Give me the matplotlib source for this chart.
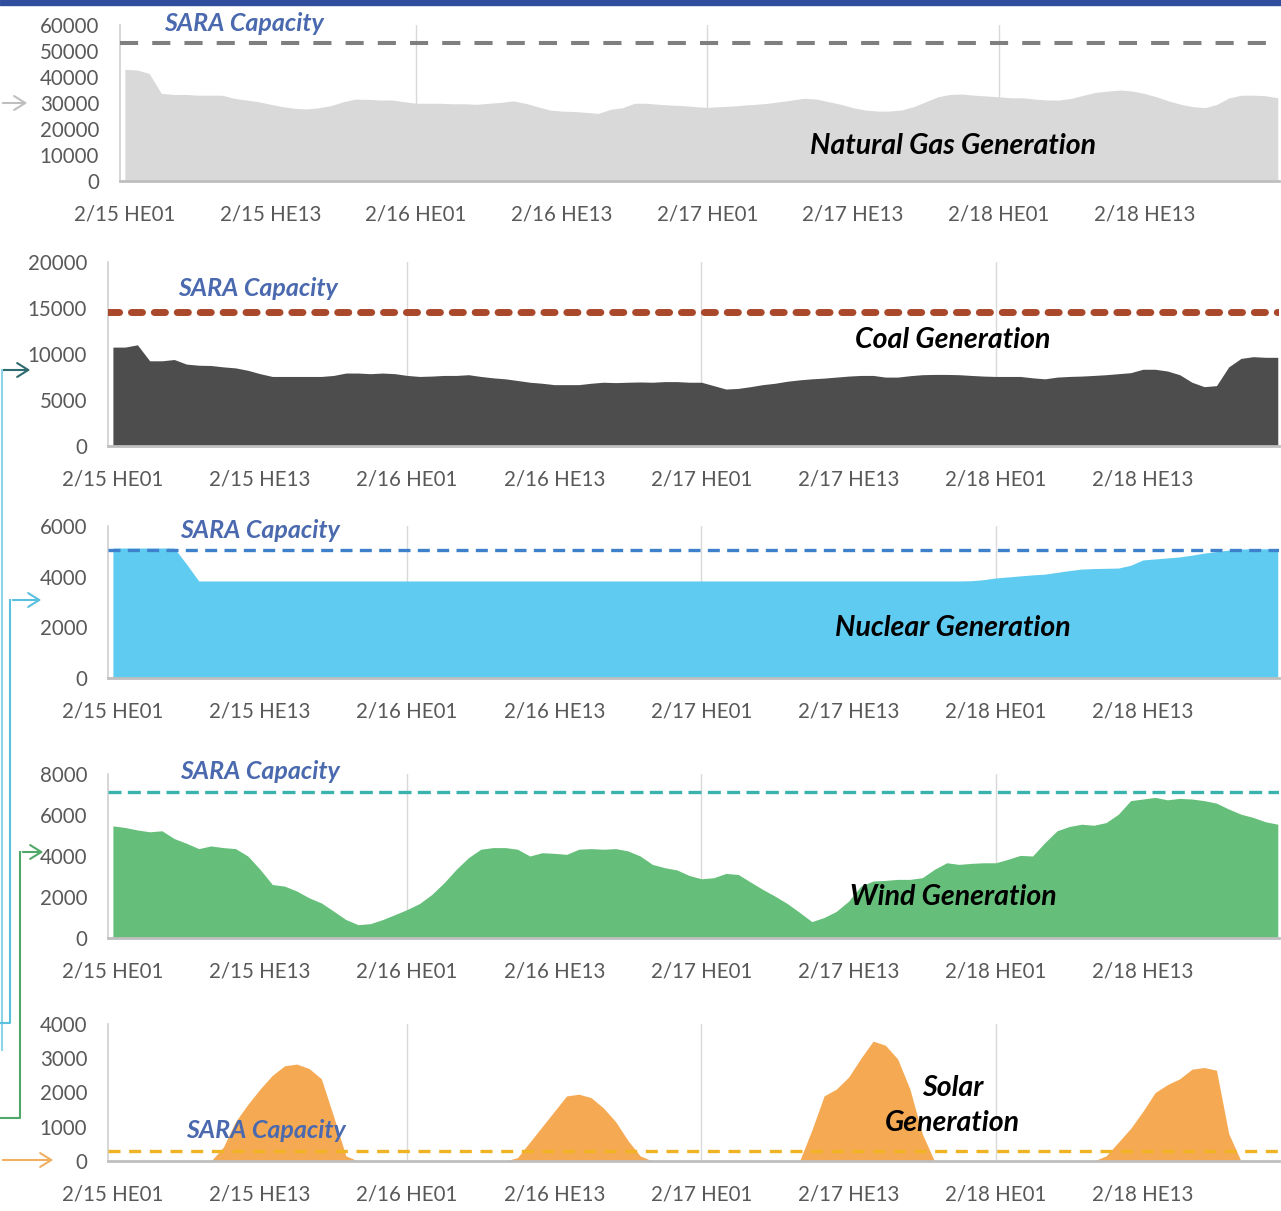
import numpy as np
import matplotlib
matplotlib.use("Agg")
import matplotlib.pyplot as plt
from matplotlib.patches import Rectangle, FancyArrowPatch
from matplotlib.lines import Line2D

plt.rcParams['font.family'] = ['Lato', 'DejaVu Sans']

# hourly categories 2/15 HE01 .. 2/18 HE24
hours = list(range(96))
tick_pos = [0, 12, 24, 36, 48, 60, 72, 84]
tick_labels = ["2/15 HE01", "2/15 HE13", "2/16 HE01", "2/16 HE13",
               "2/17 HE01", "2/17 HE13", "2/18 HE01", "2/18 HE13"]

gas = [42950, 42700, 41400, 33700, 33300, 33300, 33000, 33000, 33000, 31800,
       31150, 30500, 29500, 28600, 27950, 27700, 28200, 29000, 30500, 31500,
       31400, 31150, 31150, 30500, 29900, 29900, 29900, 29700, 29700, 29500,
       29900, 30250, 30800, 29900, 28600, 27300, 26900, 26700, 26400, 26000,
       27550, 28200, 29900, 29900, 29500, 29200, 29000, 28600, 28300, 28600,
       28800, 29200, 29500, 29900, 30500, 31150, 31800, 31500, 30500, 29500,
       28200, 27300, 26900, 26900, 27300, 28600, 30500, 32400, 33300, 33450,
       33000, 32700, 32400, 32000, 32000, 31500, 31150, 31150, 31800, 33000,
       34100, 34600, 35000, 34600, 33700, 32400, 30800, 29500, 28600, 28200,
       29500, 32000, 33000, 33000, 32800, 32000]

coal = [10750, 10750, 11000, 9260, 9260, 9400, 8900, 8780, 8750, 8600,
        8490, 8230, 7860, 7560, 7560, 7560, 7560, 7560, 7670, 7930,
        7930, 7860, 7930, 7860, 7670, 7560, 7600, 7670, 7670, 7750,
        7560, 7410, 7300, 7120, 6930, 6820, 6670, 6670, 6670, 6820,
        6930, 6890, 6930, 6960, 6930, 7000, 7000, 6930, 6930, 6560,
        6190, 6260, 6450, 6670, 6820, 7040, 7190, 7300, 7380, 7490,
        7600, 7670, 7670, 7490, 7490, 7640, 7750, 7780, 7780, 7750,
        7670, 7600, 7560, 7560, 7560, 7410, 7300, 7490, 7560, 7600,
        7670, 7750, 7860, 7970, 8340, 8340, 8150, 7750, 6930, 6450,
        6560, 8600, 9520, 9710, 9640, 9640]

nuclear = [5130, 5130, 5130, 5130, 5130, 5130, 4500, 3830, 3830, 3830,
           3830, 3830, 3830, 3830, 3830, 3830, 3830, 3830, 3830, 3830,
           3830, 3830, 3830, 3830, 3830, 3830, 3830, 3830, 3830, 3830,
           3830, 3830, 3830, 3830, 3830, 3830, 3830, 3830, 3830, 3830,
           3830, 3830, 3830, 3830, 3830, 3830, 3830, 3830, 3830, 3830,
           3830, 3830, 3830, 3830, 3830, 3830, 3830, 3830, 3830, 3830,
           3830, 3830, 3830, 3830, 3830, 3830, 3830, 3830, 3830, 3830,
           3840, 3880, 3950, 3990, 4030, 4070, 4100, 4170, 4240, 4300,
           4320, 4330, 4340, 4450, 4660, 4700, 4740, 4780, 4850, 4930,
           4990, 5050, 5090, 5100, 5100, 5100]

wind = [5470, 5390, 5270, 5180, 5230, 4850, 4620, 4360, 4490, 4410,
        4360, 4000, 3350, 2610, 2530, 2290, 1960, 1710, 1310, 900,
        650, 700, 900, 1140, 1390, 1680, 2120, 2690, 3350, 3920,
        4330, 4410, 4410, 4330, 4000, 4160, 4130, 4080, 4330, 4360,
        4330, 4360, 4250, 4000, 3590, 3430, 3320, 3050, 2890, 2940,
        3150, 3100, 2730, 2370, 2040, 1680, 1250, 800, 1000, 1300,
        1800, 2530, 2780, 2810, 2860, 2860, 2940, 3350, 3670, 3590,
        3640, 3670, 3670, 3840, 4030, 4000, 4650, 5230, 5440, 5550,
        5500, 5630, 6040, 6700, 6780, 6860, 6740, 6810, 6780, 6700,
        6580, 6290, 6040, 5880, 5670, 5550]

solar = [0, 0, 0, 0, 0, 0, 0, 0, 0, 400,
         1150, 1650, 2100, 2500, 2780, 2830, 2700, 2400, 1300, 150,
         0, 0, 0, 0, 0, 0, 0, 0, 0, 0,
         0, 0, 0, 100, 550, 1000, 1450, 1900, 1950, 1850,
         1550, 1150, 600, 150, 0, 0, 0, 0, 0, 0,
         0, 0, 0, 0, 0, 0, 0, 900, 1900, 2100,
         2450, 3000, 3500, 3380, 2980, 2100, 800, 0, 0, 0,
         0, 0, 0, 0, 0, 0, 0, 0, 0, 0,
         0, 150, 550, 950, 1450, 2000, 2230, 2400, 2680, 2730,
         2650, 800, 0, 0, 0, 0]

capacity = {"gas": 53000, "coal": 14600, "nuclear": 5050, "wind": 7100, "solar": 300}

W, H = 1281, 1211
fig = plt.figure(figsize=(W / 100, H / 100), dpi=100)
fig.patch.set_facecolor("white")


def px(x0, y_top, x1, y_bot):
    # pixel box -> figure fraction rect
    return [x0 / W, 1 - y_bot / H, (x1 - x0) / W, (y_bot - y_top) / H]


TICK_COL = "#595959"
SARA_COL = "#4A69AE"

panels = [
    # name, data, rect(px), ymax, ystep, fill, line colour, lw, dashes, round, label, label pos, sara pos
    ("gas", gas, px(120, 25, 1279, 181), 60000, 10000, "#D9D9D9", "#7F7F7F", 2.9, (4.5, 3.5), False,
     "Natural Gas Generation", (68.2, 13460), (9.8, 60400)),
    ("coal", coal, px(108, 262, 1279, 446), 20000, 5000, "#4D4D4D", "#A9482A", 5.0, (1.6, 1.7), True,
     "Coal Generation", (68.5, 11520), (11.8, 17170)),
    ("nuclear", nuclear, px(108, 526, 1279, 678), 6000, 2000, "#5FCBF1", "#3F80CC", 2.4, (3.6, 2.2), False,
     "Nuclear Generation", (68.5, 1974), (12.0, 5840)),
    ("wind", wind, px(108, 774, 1279, 938), 8000, 2000, "#65BF7A", "#3AB3AC", 2.4, (3.9, 1.9), False,
     "Wind Generation", (68.5, 2000), (12.0, 8100)),
    ("solar", solar, px(108, 1024, 1279, 1161), 4000, 1000, "#F5A952", "#F0B323", 2.4, (3.6, 2.6), False,
     None, (68.5, 0), (12.5, 905)),
]

for name, vals, rect, ymax, ystep, fcol, lcol, lw, dashes, rnd, label, lpos, spos in panels:
    ax = fig.add_axes(rect)
    ax.fill_between(hours, 0, vals, color=fcol, linewidth=0, zorder=2)
    for g in [24, 48, 72]:
        ax.axvline(g, color="#D9D9D9", lw=1, zorder=1)
    cap = capacity[name]
    ln = ax.axhline(cap, color=lcol, lw=lw, zorder=4)
    ln.set_dashes(dashes)
    if rnd:
        ln.set_dash_capstyle("round")
    ax.set_xlim(-0.4, 95.1)
    ax.set_ylim(0, ymax)
    ax.set_yticks(np.arange(0, ymax + 1, ystep))
    ax.set_yticklabels([str(int(v)) for v in np.arange(0, ymax + 1, ystep)])
    ax.set_xticks(tick_pos)
    ax.set_xticklabels(tick_labels)
    ax.tick_params(axis="both", length=0, labelsize=14.8, colors=TICK_COL)
    ax.tick_params(axis="y", pad=15)
    ax.tick_params(axis="x", pad=17)
    for s in ["top", "right"]:
        ax.spines[s].set_visible(False)
    ax.spines["left"].set_color("#D0D0D0")
    ax.spines["left"].set_linewidth(1.2)
    ax.spines["bottom"].set_color("#BFBFBF")
    ax.spines["bottom"].set_linewidth(2)
    ax.set_facecolor("none")
    ax.text(spos[0], spos[1], "SARA Capacity", color=SARA_COL, fontsize=18,
            fontweight="bold", fontstyle="italic", ha="center", va="center",
            zorder=6, clip_on=False)
    if label:
        ax.text(lpos[0], lpos[1], label, color="black", fontsize=20.5,
                fontweight="bold", fontstyle="italic", ha="center", va="center", zorder=6)
    else:
        ax.text(68.5, 2131, "Solar", color="black", fontsize=20.5,
                fontweight="bold", fontstyle="italic", ha="center", va="center", zorder=6)
        ax.text(68.5, 1110, "Generation", color="black", fontsize=20.5,
                fontweight="bold", fontstyle="italic", ha="center", va="center", zorder=6)

# top banner
fig.patches.append(Rectangle((0, 1 - 5 / H), 1, 5 / H, transform=fig.transFigure,
                             color="#2F4E9E", zorder=10))


# left connector arrows
def fx(x):
    return x / W


def fy(y):
    return 1 - y / H


def arrow(x0, x1, y, col):
    fig.add_artist(FancyArrowPatch((fx(x0), fy(y)), (fx(x1), fy(y)), transform=fig.transFigure,
                                   arrowstyle="->,head_length=8,head_width=5", color=col, lw=1.5,
                                   mutation_scale=1))


def seg(xs, ys, col):
    fig.add_artist(Line2D([fx(x) for x in xs], [fy(y) for y in ys], transform=fig.transFigure,
                          color=col, lw=1.5))


arrow(0, 30, 103, "#BFBFBF")
arrow(0, 33, 370, "#2E6B6E")
seg([2, 2], [370, 1050], "#8FD3E8")
arrow(10, 44, 600, "#5BC0DE")
seg([10, 10, 0], [600, 1023, 1023], "#5BC0DE")
arrow(20, 46, 852, "#4FA86A")
seg([20, 20, 0], [852, 1118, 1118], "#4FA86A")
arrow(0, 56, 1160, "#F0B060")

fig.savefig("out.png", dpi=100, facecolor="white")
